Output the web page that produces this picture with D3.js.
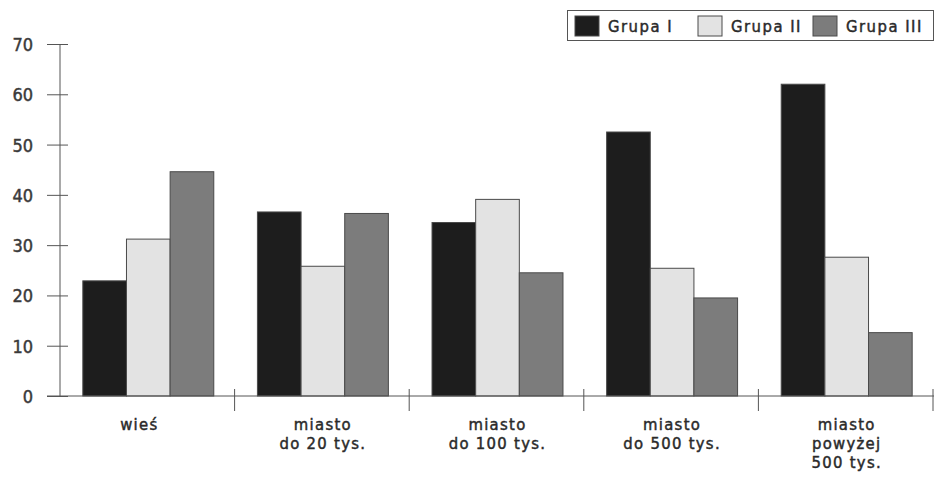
<!DOCTYPE html>
<html><head><meta charset="utf-8">
<script src="https://cdn.jsdelivr.net/npm/d3@7"></script>
<style>
html,body{margin:0;padding:0;background:#fff;}
svg text{font-family:"DejaVu Sans Condensed","Liberation Sans Narrow",sans-serif;fill:#2a2a2a;stroke:#2a2a2a;stroke-width:0.45px;}
</style></head>
<body><svg id="c" width="934" height="478"></svg>
<script>
const categories = [["wieś"],["miasto","do 20 tys."],["miasto","do 100 tys."],["miasto","do 500 tys."],["miasto","powyżej","500 tys."]];
const seriesNames = ["Grupa I","Grupa II","Grupa III"];
const grupa1 = [22.9, 36.6, 34.5, 52.5, 62.0];
const grupa2 = [31.2, 25.8, 39.1, 25.4, 27.6];
const grupa3 = [44.6, 36.3, 24.5, 19.5, 12.6];
const yTicks = [0,10,20,30,40,50,60,70];
const colors = ["#1d1d1d","#e3e3e3","#7c7c7c"];

const series = [grupa1, grupa2, grupa3];
const svg = d3.select("#c");
const keys = categories.map((c,i)=>"c"+i);
const x0 = d3.scaleBand().domain(keys).range([60,933]).padding(0);
const x1 = d3.scaleBand().domain(seriesNames).range([0,x0.bandwidth()]).paddingInner(0).paddingOuter(0.5);
const y = d3.scaleLinear().domain([0,70]).range([396,44]);

// y axis
const yAxis = d3.axisLeft(y).tickValues(yTicks).tickSize(0).tickPadding(0).tickFormat(d3.format("d"));
const ga = svg.append("g").attr("transform","translate(60,0)").call(yAxis);
ga.select(".domain").remove();
ga.selectAll("text").remove();
ga.selectAll(".tick").append("line").attr("x1",-13).attr("x2",8).attr("stroke","#555").attr("stroke-width",1);
ga.selectAll(".tick").append("text").attr("x",-27).attr("dy","0.36em").attr("text-anchor","end")
  .style("font-size","18px").style("fill","#3a3a3a").style("stroke","#3a3a3a").text(d=>d);
svg.append("line").attr("x1",60).attr("x2",60).attr("y1",y(70)).attr("y2",y(0)).attr("stroke","#555");

// bars
categories.forEach((c,i)=>{
  const g = svg.append("g").attr("transform",`translate(${x0(keys[i])},0)`);
  seriesNames.forEach((s,j)=>{
    const v = series[j][i];
    g.append("rect").attr("x",x1(s)+1).attr("y",y(v)).attr("width",x1.bandwidth()).attr("height",y(0)-y(v))
     .attr("fill",colors[j]).attr("stroke","#4a4a4a").attr("stroke-width",1);
  });
});

// x axis
svg.append("line").attr("x1",47).attr("x2",934).attr("y1",y(0)).attr("y2",y(0)).attr("stroke","#555");
const xAxis = d3.axisBottom(x0).tickSize(0).tickFormat("");
const gx = svg.append("g").attr("transform",`translate(0,${y(0)})`).call(xAxis);
gx.select(".domain").remove();
gx.selectAll(".tick line").remove();
keys.forEach((k,i)=>{
  const xs = x0(k)+x0.bandwidth();
  svg.append("line").attr("x1",xs).attr("x2",xs).attr("y1",y(0)-7).attr("y2",y(0)+15).attr("stroke","#555");
});
gx.selectAll(".tick").each(function(d,i){
  const t = d3.select(this).append("text").attr("text-anchor","middle").attr("y",34)
    .style("font-size","16.5px").style("letter-spacing","1.3px");
  categories[i].forEach((line,li)=>{
    t.append("tspan").attr("x",i===0?-8:1).attr("dy",li===0?0:19).text(line);
  });
});

// legend
const lg = svg.append("g");
lg.append("rect").attr("x",567.5).attr("y",10.5).attr("width",366).attr("height",30).attr("fill","#fff").attr("stroke","#555");
const legX = [575, 698, 813];
seriesNames.forEach((s,j)=>{
  lg.append("rect").attr("x",legX[j]).attr("y",16).attr("width",24).attr("height",20)
    .attr("fill",colors[j]).attr("stroke","#4a4a4a");
  lg.append("text").attr("x",legX[j]+33).attr("y",32).style("font-size","16.5px").style("letter-spacing","1.5px")
    .text(s);
});
</script></body></html>
